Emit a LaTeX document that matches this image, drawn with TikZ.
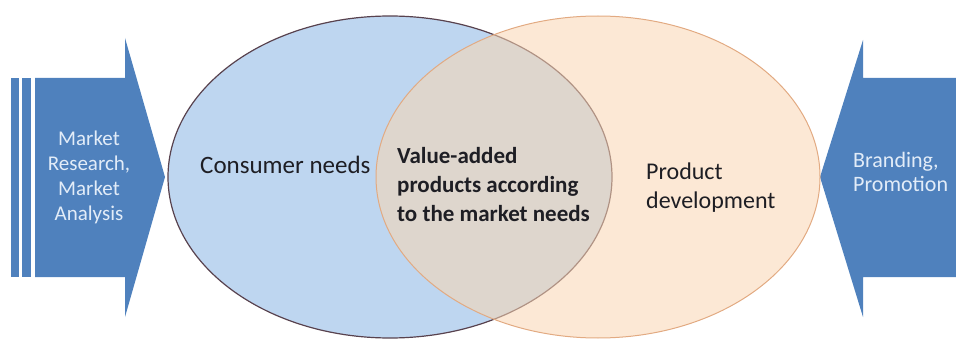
\documentclass[tikz,border=0pt]{standalone}
\usepackage{fontspec}
\setmainfont{Carlito}
\usetikzlibrary{shapes.geometric, positioning}

\definecolor{arrowblue}{RGB}{79,129,189}
\definecolor{arrowtext}{RGB}{226,236,248}
\definecolor{needsblue}{RGB}{190,214,240}
\definecolor{needsline}{RGB}{88,66,78}
\definecolor{devorange}{RGB}{250,214,178}
\definecolor{devline}{RGB}{226,170,130}
\definecolor{labeltext}{RGB}{30,30,36}

\tikzset{
  arrowlabel/.style={inner sep=0pt, text=arrowtext},
  circlelabel/.style={inner sep=0pt, anchor=north west, text=labeltext, align=left}
}

\begin{document}
\begin{tikzpicture}[x=1pt, y=-1pt]
\useasboundingbox (0,0) rectangle (956,342);

% Left arrow (striped)
\fill[arrowblue] (11,78) rectangle (19,277);
\fill[arrowblue] (22,78) rectangle (31,277);
\fill[arrowblue] (35,78) -- (125,78) -- (125,38) -- (165,177) -- (125,317) -- (125,277) -- (35,277) -- cycle;

% Right arrow
\fill[arrowblue] (956,78) -- (863,78) -- (863,40) -- (820,177) -- (863,317) -- (863,277) -- (956,277) -- cycle;

% Venn ellipses
\node[ellipse, draw=needsline, line width=1.2pt, fill=needsblue, minimum width=444pt, minimum height=322pt, inner sep=0pt] (needs) at (390,177) {};
\node[ellipse, draw=devline, line width=1pt, fill=devorange, fill opacity=0.55, minimum width=444pt, minimum height=322pt, inner sep=0pt] (dev) at (598,177) {};

% Labels
\node[arrowlabel, align=center, font=\fontsize{21}{25}\selectfont] (research) at (89,177) {Market\\Research,\\Market\\Analysis};
\node[circlelabel, anchor=base west, font=\fontsize{25}{30}\selectfont] (consumer) at (200,174) {Consumer needs};
\node[circlelabel, font=\bfseries\fontsize{23}{29}\selectfont] (value) at (397,147) {Value-added\\products according\\to the market needs};
\node[circlelabel, font=\fontsize{24}{29}\selectfont] (product) at (646,163) {Product\\development};
\node[arrowlabel, anchor=north west, align=left, font=\fontsize{22}{24}\selectfont] (branding) at (853,152) {Branding,\\Promotion};
\end{tikzpicture}
\end{document}
